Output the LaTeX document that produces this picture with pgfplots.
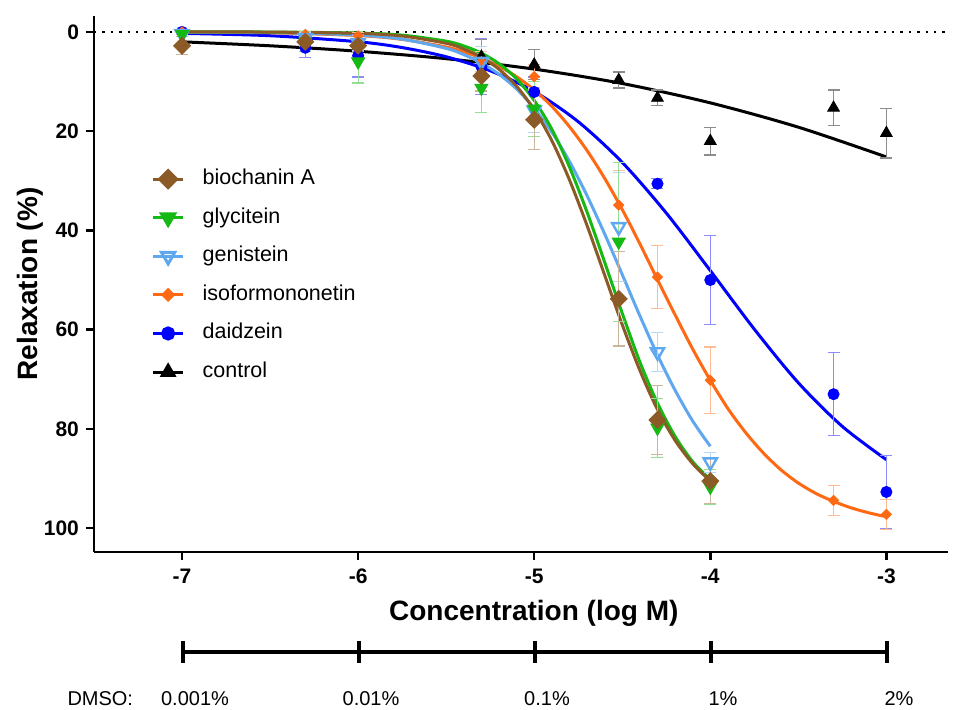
\documentclass[border=0pt]{standalone}
\usepackage{fontspec}
\setmainfont{Liberation Sans}
\usepackage{pgfplots}
\usepackage{pgfplotstable}
\pgfplotsset{compat=1.18}

\definecolor{cBio}{RGB}{140,90,38}
\definecolor{cGly}{RGB}{20,185,20}
\definecolor{cGen}{RGB}{95,168,240}
\definecolor{cIso}{RGB}{255,105,20}
\definecolor{cDai}{RGB}{0,0,255}

% measured means and error (x = log M)
\pgfplotstableread{
x y e
-7 2.8 1.8
-6.3 2.0 1.0
-6 2.8 1.2
-5.3 8.9 3.0
-5 17.7 6.0
-4.52 53.8 9.5
-4.3 78.2 7.0
-4 90.5 4.5
}\bioPts
\pgfplotstableread{
x y e
-7 0.5 0.5
-6.3 2.0 2.0
-6 6.0 4.3
-5.3 11.3 5.0
-5 15.5 5.5
-4.52 42.3 16.0
-4.3 79.8 6.0
-4 91.7 3.5
}\glyPts
\pgfplotstableread{
x y e
-7 0.4 0.5
-6.3 1.2 1.0
-6 2.2 1.5
-5.3 6.0 3.0
-5 15.8 4.5
-4.52 39.3 11.0
-4.3 64.5 4.0
-4 86.7 2.0
}\genPts
\pgfplotstableread{
x y e
-7 0.0 0.5
-6.3 0.5 0.5
-6 0.8 0.6
-5.3 6.0 2.0
-5 9.0 2.5
-4.52 34.9 7.0
-4.3 49.4 6.4
-4 70.2 6.7
-3.3 94.4 3.0
-3 97.2 3.0
}\isoPts
\pgfplotstableread{
x y e
-7 0.0 0.5
-6.3 3.2 2.0
-6 4.8 4.3
-5.3 7.0 5.6
-5 12.1 3.0
-4.3 30.6 1.0
-4 50.0 9.0
-3.3 73.0 8.4
-3 92.7 7.3
}\daiPts
\pgfplotstableread{
x y e
-5.3 5.0 3.5
-5 6.6 3.0
-4.52 9.7 1.6
-4.3 13.3 1.6
-4 22.0 2.8
-3.3 15.3 3.6
-3 20.4 5.0
}\conPts

% fitted curves
\pgfplotstableread{
x y
-7 0.0
-6.5 0.04
-6 0.30
-5.75 0.83
-5.5 2.30
-5.4 3.44
-5.3 5.10
-5.2 7.53
-5.1 10.96
-5.0 15.7
-4.9 21.9
-4.8 29.8
-4.7 39.0
-4.6 49.0
-4.5 59.0
-4.4 68.2
-4.3 76.1
-4.2 82.3
-4.1 87.0
-4.0 90.5
}\bioFit
\pgfplotstableread{
x y
-7 0.0
-6.5 0.03
-6 0.23
-5.75 0.65
-5.5 1.87
-5.4 2.83
-5.3 4.28
-5.2 6.40
-5.1 9.46
-5.0 13.8
-4.9 19.6
-4.8 27.2
-4.7 36.3
-4.6 46.4
-4.5 56.7
-4.4 66.5
-4.3 74.8
-4.2 81.5
-4.1 86.6
-4.0 90.2
}\glyFit
\pgfplotstableread{
x y
-7 0.02
-6.5 0.12
-6 0.65
-5.75 1.47
-5.5 3.32
-5.4 4.58
-5.3 6.27
-5.2 8.53
-5.1 11.5
-5.0 15.4
-4.9 20.2
-4.8 26.1
-4.7 33.0
-4.6 40.7
-4.5 48.9
-4.4 57.2
-4.3 65.1
-4.2 72.2
-4.1 78.4
-4.0 83.5
}\genFit
\pgfplotstableread{
x y
-7 0.04
-6.5 0.18
-6 0.74
-5.75 1.51
-5.5 3.05
-5.4 4.02
-5.3 5.29
-5.2 6.94
-5.1 9.03
-5.0 11.7
-4.9 15.0
-4.8 19.1
-4.7 23.9
-4.6 29.5
-4.5 35.8
-4.4 42.7
-4.3 49.9
-4.2 57.0
-4.1 63.9
-4.0 70.2
-3.9 75.9
-3.8 80.7
-3.7 84.8
-3.6 88.2
-3.5 90.9
-3.4 93.0
-3.3 94.6
-3.2 95.9
-3.1 96.9
-3.0 97.7
}\isoFit
\pgfplotstableread{
x y
-7 0.30
-6.5 0.77
-6 1.99
-5.75 3.16
-5.5 5.01
-5.25 7.83
-5.0 12.0
-4.75 18.1
-4.5 26.3
-4.25 36.5
-4.0 48.1
-3.75 59.9
-3.5 70.7
-3.25 79.5
-3.0 86.2
}\daiFit
\pgfplotstableread{
x y
-7 2.0
-6.5 2.8
-6 3.9
-5.5 5.4
-5 7.5
-4.5 10.4
-4 14.3
-3.5 19.2
-3 25.2
}\conFit

\pgfplotsset{
  fitline/.style={color=#1, line width=1.5pt, smooth, no markers, forget plot},
  pts/.style={color=#1, only marks, forget plot,
    error bars/y dir=both, error bars/y explicit,
    error bars/error bar style={line width=0.6pt, color=#1!45!white},
    error bars/error mark options={rotate=90, mark size=3pt, line width=0.6pt, color=#1!45!white}},
}

\begin{document}
\begin{tikzpicture}
\begin{axis}[
  scale only axis, width=427pt, height=268pt,
  xmin=-7.5, xmax=-2.65, ymin=-3.2, ymax=104.8, y dir=reverse,
  axis x line*=bottom, axis y line*=left,
  axis line style={line width=1.25pt},
  every tick/.style={line width=1.25pt, black},
  tick align=outside, major tick length=4pt,
  xtick={-7,-6,-5,-4,-3}, xticklabels={-7,-6,-5,-4,-3},
  ytick={0,20,40,60,80,100}, yticklabels={0,20,40,60,80,100},
  ticklabel style={font=\fontsize{10.5}{12}\selectfont\bfseries},
  xticklabel style={yshift=-1pt},
  xlabel={Concentration (log M)}, ylabel={Relaxation (\%)},
  label style={font=\fontsize{14}{16}\selectfont\bfseries},
  xlabel style={at={(axis description cs:0.515,-0.114)}, anchor=center},
  ylabel style={at={(axis description cs:-0.075,0.5)}, anchor=center},
  legend style={at={(axis description cs:0.06,0.731)}, anchor=north west,
    draw=none, fill=none, font=\fontsize{10.75}{12}\selectfont,
    row sep=4.8pt, column sep=7pt,
    nodes={inner sep=2pt, text height=8pt, text depth=2.5pt}},
  legend cell align=left,
  legend image code/.code={\draw[mark repeat=2,mark phase=2,#1] plot coordinates {(0pt,0pt) (7.5pt,0pt) (15pt,0pt)};},
]
\addplot[black, line width=1.2pt, dash pattern=on 1.2pt off 3pt, forget plot] coordinates {(-7.5,0) (-2.65,0)};

\addplot[fitline=black] table[x=x,y=y]{\conFit};
\addplot[fitline=cDai] table[x=x,y=y]{\daiFit};
\addplot[fitline=cIso] table[x=x,y=y]{\isoFit};
\addplot[fitline=cGen] table[x=x,y=y]{\genFit};
\addplot[fitline=cGly] table[x=x,y=y]{\glyFit};
\addplot[fitline=cBio] table[x=x,y=y]{\bioFit};

\addplot[mark=triangle*, mark size=3.4pt, pts=black] table[x=x,y=y,y error=e]{\conPts};
\addplot[mark=*, mark size=2.8pt, pts=cDai] table[x=x,y=y,y error=e]{\daiPts};
\addplot[mark=square*, mark size=1.8pt, mark options={rotate=45}, pts=cIso] table[x=x,y=y,y error=e]{\isoPts};
\addplot[mark=triangle, mark size=3.8pt, mark options={rotate=180, line width=1.2pt}, pts=cGen] table[x=x,y=y,y error=e]{\genPts};
\addplot[mark=triangle*, mark size=3.8pt, mark options={rotate=180}, pts=cGly] table[x=x,y=y,y error=e]{\glyPts};
\addplot[mark=square*, mark size=3pt, mark options={rotate=45}, pts=cBio] table[x=x,y=y,y error=e]{\bioPts};

\addlegendimage{cBio, line width=1.5pt, mark=square*, mark size=3pt, mark options={rotate=45}}
\addlegendentry{biochanin A}
\addlegendimage{cGly, line width=1.5pt, mark=triangle*, mark size=3.8pt, mark options={rotate=180}}
\addlegendentry{glycitein}
\addlegendimage{cGen, line width=1.5pt, mark=triangle, mark size=3.8pt, mark options={rotate=180}}
\addlegendentry{genistein}
\addlegendimage{cIso, line width=1.5pt, mark=square*, mark size=1.8pt, mark options={rotate=45}}
\addlegendentry{isoformononetin}
\addlegendimage{cDai, line width=1.5pt, mark=*, mark size=2.8pt}
\addlegendentry{daidzein}
\addlegendimage{black, line width=1.5pt, mark=triangle*, mark size=3.4pt}
\addlegendentry{control}
\end{axis}

\begin{axis}[
  at={(44.5pt,-55.5pt)}, anchor=south west,
  scale only axis, width=352pt, height=11pt,
  xmin=-7, xmax=-3, ymin=-1, ymax=1,
  axis x line=middle, axis y line=none,
  axis line style={line width=1.6pt, -},
  every inner x axis line/.append style={line width=1.6pt, -},
  xtick={-7,-6,-5,-4,-3}, ytick=\empty,
  tick align=center, major tick length=11pt,
  every tick/.style={line width=1.6pt, black},
  every major tick/.append style={line width=1.6pt},
  xticklabels={0.001\%,0.01\%,0.1\%,1\%,2\%},
  xticklabel style={font=\fontsize{10}{12}\selectfont, anchor=base, yshift=-21pt, xshift=6pt},
  clip=false,
]
\node[font=\fontsize{10}{12}\selectfont, anchor=base] at (axis cs:-7.47,0) [yshift=-26.5pt] {DMSO:};
\end{axis}

\pgfresetboundingbox
\useasboundingbox (-47pt,-78.5pt) rectangle (435pt,276pt);
\end{tikzpicture}
\end{document}
